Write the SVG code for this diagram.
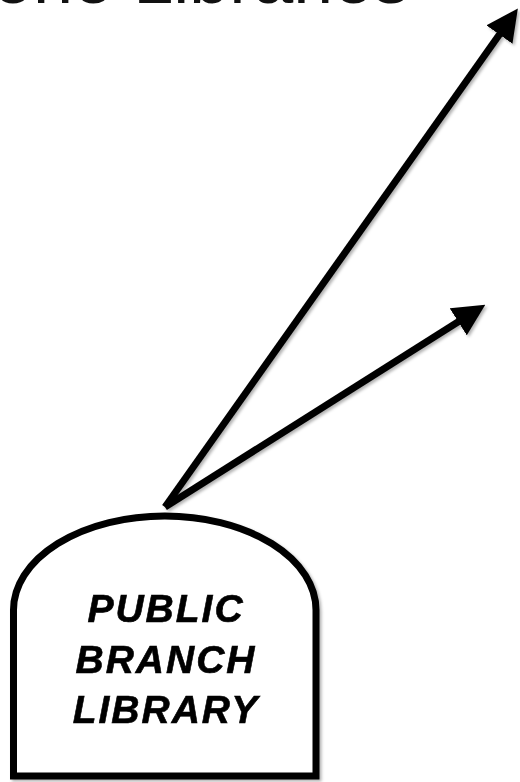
<svg xmlns="http://www.w3.org/2000/svg" width="520" height="782" viewBox="0 0 520 782">
  <style>
    .title { font-family: "Liberation Sans", Arial, sans-serif; font-size: 72px; fill: #111; }
    .conn { stroke: #000; stroke-width: 7; fill: none; marker-end: url(#head); }
    .stone { fill: #fff; stroke: #000; stroke-width: 7; stroke-linejoin: miter; }
    .label { font-family: "Liberation Sans", Arial, sans-serif; font-size: 39px; font-weight: bold; font-style: italic; letter-spacing: 2px; text-anchor: middle; fill: #000; stroke: #000; stroke-width: 0.6; }
  </style>
  <defs>
    <marker id="head" markerUnits="userSpaceOnUse" viewBox="0 0 32 32" markerWidth="32" markerHeight="32" refX="8" refY="16" orient="auto">
      <path d="M0,0 L32,16 L0,32 Z" fill="#000"/>
    </marker>
    <filter id="shadow" x="-10%" y="-10%" width="130%" height="130%">
      <feDropShadow dx="2" dy="2" stdDeviation="1.5" flood-color="#000" flood-opacity="0.3"/>
    </filter>
  </defs>
  <text class="title" x="-7" y="3">one Libraries</text>
  <g id="connectors" filter="url(#shadow)">
    <line class="conn" x1="165" y1="507" x2="504" y2="28"/>
    <line class="conn" x1="165" y1="507" x2="465" y2="317.5"/>
  </g>
  <g id="library" filter="url(#shadow)">
    <path class="stone" d="M13.5,776 L13.5,610 A151.25,94 0 0 1 316,610 L316,776 Z"/>
    <text class="label" x="166" y="622">PUBLIC</text>
    <text class="label" x="166" y="673">BRANCH</text>
    <text class="label" x="166" y="723">LIBRARY</text>
  </g>
</svg>
